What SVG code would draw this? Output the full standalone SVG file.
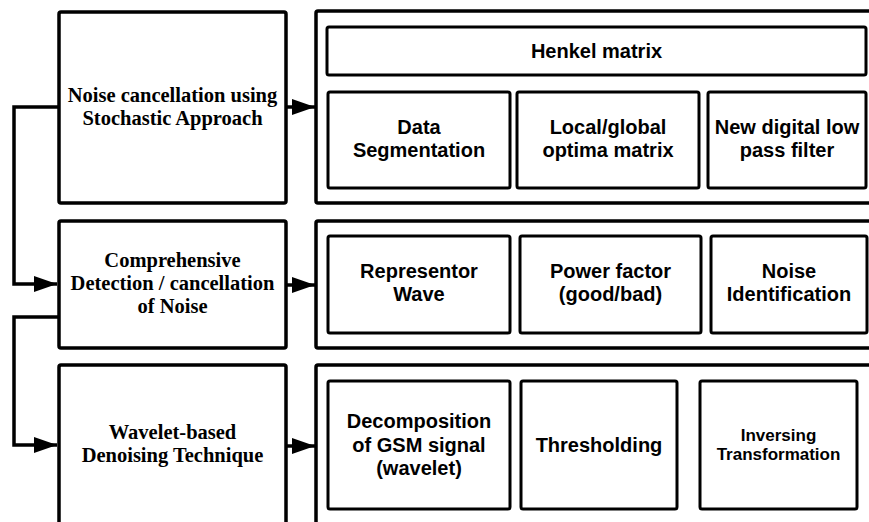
<svg xmlns="http://www.w3.org/2000/svg" width="869" height="522" viewBox="0 0 869 522">
<style>
.box{fill:#fff;stroke:#000;stroke-width:3.5}
.ibox{fill:#fff;stroke:#000;stroke-width:3}
.lt{font-family:"Liberation Serif","Times New Roman",serif;font-weight:bold;font-size:20.5px;text-anchor:middle;fill:#000}
.rt{font-family:"Liberation Sans",Arial,sans-serif;font-weight:bold;font-size:20px;text-anchor:middle;fill:#000}
.sm{font-size:17px}
.wire{fill:none;stroke:#000;stroke-width:3.5}
</style>
<defs>
<marker id="ah" markerWidth="24" markerHeight="16" refX="23" refY="8" orient="auto" markerUnits="userSpaceOnUse">
<path d="M0,0 L23,8 L0,16 Z" fill="#000"/>
</marker>
</defs>
<rect width="869" height="522" fill="#fff"/>

<g id="connectors">
<path class="wire" d="M59,107 H14 V284 H57" marker-end="url(#ah)"/>
<path class="wire" d="M59,317 H14 V445 H57" marker-end="url(#ah)"/>
<path class="wire" d="M286,107 H315" marker-end="url(#ah)"/>
<path class="wire" d="M286,285 H315" marker-end="url(#ah)"/>
<path class="wire" d="M286,446 H315" marker-end="url(#ah)"/>
</g>

<g id="n-stochastic">
<rect class="box" x="59" y="12" width="227" height="191" rx="2"/>
<text class="lt" x="172.5" y="102">Noise cancellation using</text>
<text class="lt" x="172.5" y="125">Stochastic Approach</text>
</g>
<g id="n-comprehensive">
<rect class="box" x="59" y="221" width="227" height="127" rx="2"/>
<text class="lt" x="172.5" y="267">Comprehensive</text>
<text class="lt" x="172.5" y="290">Detection / cancellation</text>
<text class="lt" x="172.5" y="313">of Noise</text>
</g>
<g id="n-wavelet">
<rect class="box" x="59" y="365" width="227" height="180" rx="2"/>
<text class="lt" x="172.5" y="439">Wavelet-based</text>
<text class="lt" x="172.5" y="462">Denoising Technique</text>
</g>

<g id="g-stochastic">
<rect class="box" x="316" y="11" width="580" height="192" rx="2"/>
</g>
<g id="n-henkel">
<rect class="ibox" x="327" y="27" width="539" height="48" rx="2"/>
<text class="rt" x="596.5" y="58">Henkel matrix</text>
</g>
<g id="n-dataseg">
<rect class="ibox" x="328" y="92" width="182" height="96" rx="2"/>
<text class="rt" x="419" y="134">Data</text>
<text class="rt" x="419" y="157">Segmentation</text>
</g>
<g id="n-localglobal">
<rect class="ibox" x="517" y="92" width="182" height="96" rx="2"/>
<text class="rt" x="608" y="134">Local/global</text>
<text class="rt" x="608" y="157">optima matrix</text>
</g>
<g id="n-lowpass">
<rect class="ibox" x="708" y="92" width="158" height="96" rx="2"/>
<text class="rt" x="787" y="134">New digital low</text>
<text class="rt" x="787" y="157">pass filter</text>
</g>

<g id="g-comprehensive">
<rect class="box" x="316" y="221" width="580" height="127" rx="2"/>
</g>
<g id="n-representor">
<rect class="ibox" x="328" y="236" width="182" height="97" rx="2"/>
<text class="rt" x="419" y="278">Representor</text>
<text class="rt" x="419" y="301">Wave</text>
</g>
<g id="n-powerfactor">
<rect class="ibox" x="520" y="236" width="181" height="97" rx="2"/>
<text class="rt" x="610.5" y="278">Power factor</text>
<text class="rt" x="610.5" y="301">(good/bad)</text>
</g>
<g id="n-noiseid">
<rect class="ibox" x="711" y="236" width="156" height="97" rx="2"/>
<text class="rt" x="789" y="278">Noise</text>
<text class="rt" x="789" y="301">Identification</text>
</g>

<g id="g-wavelet">
<rect class="box" x="316" y="365" width="580" height="180" rx="2"/>
</g>
<g id="n-decomp">
<rect class="ibox" x="328" y="381" width="182" height="128" rx="2"/>
<text class="rt" x="419" y="428">Decomposition</text>
<text class="rt" x="419" y="452">of GSM signal</text>
<text class="rt" x="419" y="475">(wavelet)</text>
</g>
<g id="n-threshold">
<rect class="ibox" x="521" y="381" width="156" height="128" rx="2"/>
<text class="rt" x="599" y="452">Thresholding</text>
</g>
<g id="n-inverse">
<rect class="ibox" x="700" y="381" width="157" height="128" rx="2"/>
<text class="rt sm" x="778.5" y="441">Inversing</text>
<text class="rt sm" x="778.5" y="460">Transformation</text>
</g>
</svg>
